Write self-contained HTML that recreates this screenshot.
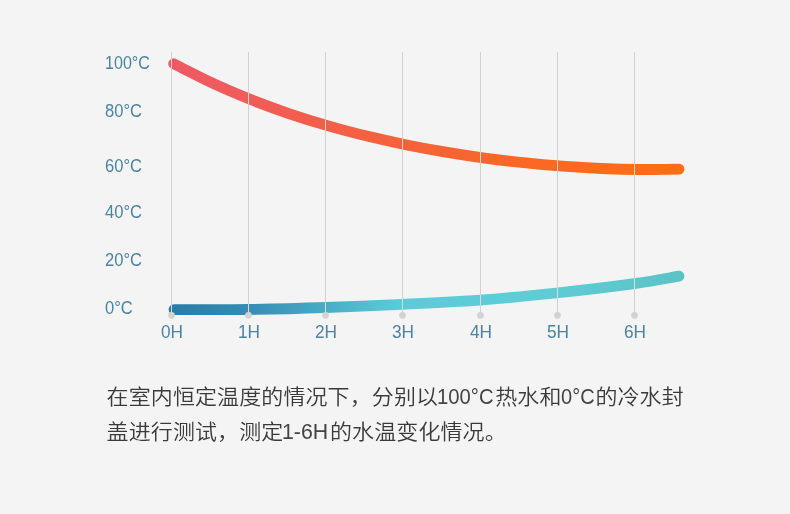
<!DOCTYPE html>
<html lang="zh-CN">
<head>
<meta charset="utf-8">
<title>水温变化</title>
<style>
html,body{margin:0;padding:0;}
body{width:790px;height:514px;background:#f4f4f4;position:relative;overflow:hidden;font-family:"Liberation Sans","Noto Sans CJK SC",sans-serif;}
#chart{position:absolute;left:0;top:0;width:790px;height:514px;}
.yl,.xl{position:absolute;color:#4a84a2;font-size:18.2px;line-height:20px;height:20px;white-space:nowrap;}
.xl{width:60px;text-align:center;top:322px;transform:scaleX(.95);transform-origin:50% 50%;}
.yl{left:104.6px;transform:scaleX(.91);transform-origin:0 50%;}
#desc{position:absolute;left:106.6px;top:379px;width:640px;margin:0;font-size:22px;line-height:35px;color:#3a3a3a;font-weight:350;letter-spacing:.1px;white-space:nowrap;}
#desc div{height:35px;transform:scaleY(.95);transform-origin:0 17.3px;}
#desc div+div{margin-top:.4px;}
#desc .w{display:inline-block;white-space:nowrap;letter-spacing:0;line-height:35px;}
#desc .n{display:inline-block;font-size:23px;transform-origin:0 50%;color:#444;margin-left:-1px;}
</style>
</head>
<body>
<svg id="chart" width="790" height="514" viewBox="0 0 790 514">
  <defs>
    <linearGradient id="gr" gradientUnits="userSpaceOnUse" x1="168" y1="0" x2="684" y2="0">
      <stop offset="0" stop-color="#ee5966"/>
      <stop offset="0.5" stop-color="#f66336"/>
      <stop offset="0.8" stop-color="#fc6a1c"/>
      <stop offset="1" stop-color="#ff6e10"/>
    </linearGradient>
    <linearGradient id="gb" gradientUnits="userSpaceOnUse" x1="168" y1="0" x2="684" y2="0">
      <stop offset="0" stop-color="#2a7ba7"/>
      <stop offset="0.15" stop-color="#338cb3"/>
      <stop offset="0.45" stop-color="#5ccbd8"/>
      <stop offset="0.7" stop-color="#5fcdd6"/>
      <stop offset="1" stop-color="#5bc3c6"/>
    </linearGradient>
    <path id="cr" d="M173.7 63.75 C186.7 70.24 199.6 77.20 212.6 83.21 C225.5 89.23 238.5 94.71 251.4 99.85 C264.4 104.98 277.4 109.66 290.3 114.03 C303.3 118.41 316.2 122.38 329.2 126.10 C342.1 129.82 355.1 133.19 368.0 136.33 C381.0 139.47 394.0 142.31 406.9 144.95 C419.9 147.59 432.8 149.96 445.8 152.14 C458.7 154.32 471.7 156.28 484.7 158.04 C497.6 159.80 510.6 161.36 523.5 162.72 C536.5 164.08 549.4 165.25 562.4 166.21 C575.3 167.17 588.3 167.94 601.3 168.49 C614.2 169.04 627.2 169.40 640.1 169.51 C653.1 169.61 666.0 169.25 679.0 169.13"/>
    <path id="cb" d="M174.0 309.6 C186.4 309.6 223.2 309.9 248.5 309.5 C273.8 309.1 299.8 308.4 325.5 307.5 C351.2 306.6 376.8 305.5 402.5 304.3 C428.2 303.1 453.8 302.0 479.5 300.1 C505.2 298.2 530.7 295.7 556.5 293.0 C582.3 290.3 614.1 286.5 634.5 283.7 C654.9 280.9 671.6 277.4 679.0 276.2"/>
    <g id="grid">
      <rect x="171" y="52" width="1" height="263"/>
      <rect x="248" y="52" width="1" height="263"/>
      <rect x="325" y="52" width="1" height="263"/>
      <rect x="402" y="52" width="1" height="263"/>
      <rect x="480" y="52" width="1" height="263"/>
      <rect x="557" y="52" width="1" height="263"/>
      <rect x="634" y="52" width="1" height="263"/>
    </g>
    <mask id="mk" maskUnits="userSpaceOnUse" x="0" y="0" width="790" height="514">
      <use href="#cr" fill="none" stroke="#fff" stroke-width="10.8" stroke-linecap="round"/>
      <use href="#cb" fill="none" stroke="#fff" stroke-width="10.8" stroke-linecap="round"/>
    </mask>
  </defs>
  <use href="#grid" fill="#d2d2d2"/>
  <use href="#cr" fill="none" stroke="url(#gr)" stroke-width="10.8" stroke-linecap="round"/>
  <use href="#cb" fill="none" stroke="url(#gb)" stroke-width="10.8" stroke-linecap="round"/>
  <g mask="url(#mk)"><use href="#grid" fill="#e0d8d4"/></g>
  <g fill="#d3d3d3">
    <circle cx="171.5" cy="315.3" r="3.4"/>
    <circle cx="248.5" cy="315.3" r="3.4"/>
    <circle cx="325.5" cy="315.3" r="3.4"/>
    <circle cx="402.5" cy="315.3" r="3.4"/>
    <circle cx="480.5" cy="315.3" r="3.4"/>
    <circle cx="557.5" cy="315.3" r="3.4"/>
    <circle cx="634.5" cy="315.3" r="3.4"/>
  </g>
</svg>
<div class="yl" style="top:53px;transform:scaleX(.885)">100°C</div>
<div class="yl" style="top:101px">80°C</div>
<div class="yl" style="top:156px">60°C</div>
<div class="yl" style="top:202px">40°C</div>
<div class="yl" style="top:250px">20°C</div>
<div class="yl" style="top:298px">0°C</div>
<div class="xl" style="left:141.5px">0H</div>
<div class="xl" style="left:218.5px">1H</div>
<div class="xl" style="left:295.5px">2H</div>
<div class="xl" style="left:372.5px">3H</div>
<div class="xl" style="left:450.5px">4H</div>
<div class="xl" style="left:527.5px">5H</div>
<div class="xl" style="left:604.5px">6H</div>
<div id="desc"><div>在室内恒定温度的情况下，分别以<span class="w" style="width:57.1px"><span class="n" style="transform:scaleX(.882)">100°C</span></span>热水和<span class="w" style="width:33.9px"><span class="n" style="transform:scaleX(.87)">0°C</span></span>的冷水封</div><div>盖进行测试，测定<span class="w" style="width:46.6px"><span class="n" style="transform:scaleX(.927)">1-6H</span></span>的水温变化情况。</div></div>
</body>
</html>
